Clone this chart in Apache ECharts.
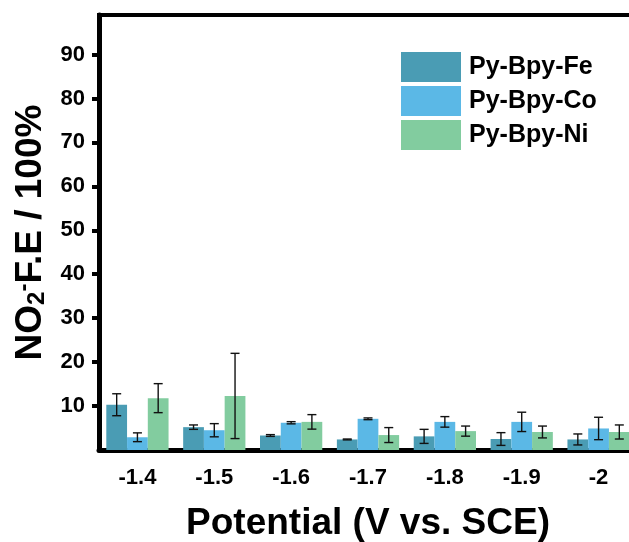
<!DOCTYPE html>
<html>
<head>
<meta charset="utf-8">
<script src="https://cdn.jsdelivr.net/npm/echarts@6/dist/echarts.min.js"></script>
<style>
  html, body { margin: 0; padding: 0; background: #fff; }
  #chart { width: 629px; height: 542px; }
</style>
</head>
<body>
<div id="chart"></div>
<script>
// Potential categories (V vs. SCE)
const potentials = ["-1.4", "-1.5", "-1.6", "-1.7", "-1.8", "-1.9", "-2"];
const seriesNames = ["Py-Bpy-Fe", "Py-Bpy-Co", "Py-Bpy-Ni"];

// NO2- Faradaic efficiency (%) and error (+/-)
const feVals = [10.3, 5.2, 3.3, 2.4, 3.1, 2.5, 2.4];
const feErr = [2.5, 0.5, 0.2, 0.1, 1.6, 1.45, 1.25];
const coVals = [2.9, 4.5, 6.2, 7.1, 6.4, 6.4, 4.9];
const coErr = [1.0, 1.5, 0.25, 0.2, 1.2, 2.2, 2.55];
const niVals = [11.8, 12.3, 6.4, 3.4, 4.3, 4.1, 4.1];
const niErr = [3.3, 9.7, 1.65, 1.7, 1.15, 1.35, 1.6];

const yTicks = [10, 20, 30, 40, 50, 60, 70, 80, 90];
const colors = ["#4a9cb4", "#5bb8e6", "#82cc9f"];

const font = "Liberation Sans, Arial, sans-serif";
const vals = [feVals, coVals, niVals];
const errs = [feErr, coErr, niErr];
const catGap = 0.19;

// error bar data: [category index, series index, value, error]
const errData = [];
vals.forEach((arr, s) => {
  arr.forEach((v, i) => errData.push([i, s, v, errs[s][i]]));
});

const chart = echarts.init(document.getElementById("chart"), null, { renderer: "canvas" });

const option = {
  animation: false,
  grid: {
    left: 99,
    top: 15,
    width: 538,
    height: 435,
    containLabel: false,
    outerBoundsMode: "none",
    show: true,
    borderColor: "#000",
    borderWidth: 4,
  },
  legend: {
    data: seriesNames,
    orient: "vertical",
    left: 401,
    top: 52,
    padding: 0,
    itemWidth: 60,
    itemHeight: 30,
    itemGap: 4,
    icon: "rect",
    textStyle: { fontFamily: font, fontWeight: "bold", fontSize: 25, color: "#000", padding: [0, 0, 0, 3] },
  },
  xAxis: {
    type: "category",
    data: potentials,
    name: "Potential (V vs. SCE)",
    nameLocation: "middle",
    nameGap: 55,
    nameTextStyle: { fontFamily: font, fontWeight: "bold", fontSize: 37, color: "#000" },
    axisLine: { lineStyle: { color: "#000", width: 5 } },
    axisTick: { alignWithLabel: true, length: 7, lineStyle: { color: "#000", width: 3 } },
    axisLabel: { fontFamily: font, fontWeight: "bold", fontSize: 22, color: "#000", margin: 17 },
  },
  yAxis: {
    type: "value",
    min: 0,
    max: 99,
    interval: 10,
    name: "{b|NO}{sub|2}{sup|-}{b|F.E / 100%}",
    nameLocation: "middle",
    nameGap: 50,
    nameTextStyle: {
      color: "#000",
      rich: {
        b: { fontFamily: font, fontWeight: "bold", fontSize: 37, lineHeight: 37, verticalAlign: "top", color: "#000" },
        sub: { fontFamily: font, fontWeight: "bold", fontSize: 24, lineHeight: 22, verticalAlign: "bottom", color: "#000" },
        sup: { fontFamily: font, fontWeight: "bold", fontSize: 24, lineHeight: 24, verticalAlign: "top", color: "#000" },
      },
    },
    splitLine: { show: false },
    axisLine: { show: true, lineStyle: { color: "#000", width: 5 } },
    axisTick: { show: true, length: 7, customValues: yTicks, lineStyle: { color: "#000", width: 4 } },
    axisLabel: { fontFamily: font, fontWeight: "bold", fontSize: 22, color: "#000", margin: 14, customValues: yTicks },
  },
  series: [
    ...seriesNames.map((name, s) => ({
      name,
      type: "bar",
      data: vals[s],
      barGap: "0%",
      barCategoryGap: catGap * 100 + "%",
      itemStyle: { color: colors[s] },
    })),
    {
      type: "custom",
      data: errData,
      encode: { x: 0, y: 2 },
      z: 10,
      renderItem(params, api) {
        const cat = api.value(0);
        const s = api.value(1);
        const v = api.value(2);
        const e = api.value(3);
        const band = api.size([1, 0])[0];
        const bw = (band * (1 - catGap)) / 3;
        const x = api.coord([cat, 0])[0] + (s - 1) * bw;
        const top = api.coord([cat, v + e])[1];
        const bot = api.coord([cat, v - e])[1];
        const hw = 4.5;
        const style = { stroke: "#111", lineWidth: 1.4 };
        return {
          type: "group",
          children: [
            { type: "line", shape: { x1: x, y1: top, x2: x, y2: bot }, style },
            { type: "line", shape: { x1: x - hw, y1: top, x2: x + hw, y2: top }, style },
            { type: "line", shape: { x1: x - hw, y1: bot, x2: x + hw, y2: bot }, style },
          ],
        };
      },
    },
  ],
};

chart.setOption(option, true);
</script>
</body>
</html>
